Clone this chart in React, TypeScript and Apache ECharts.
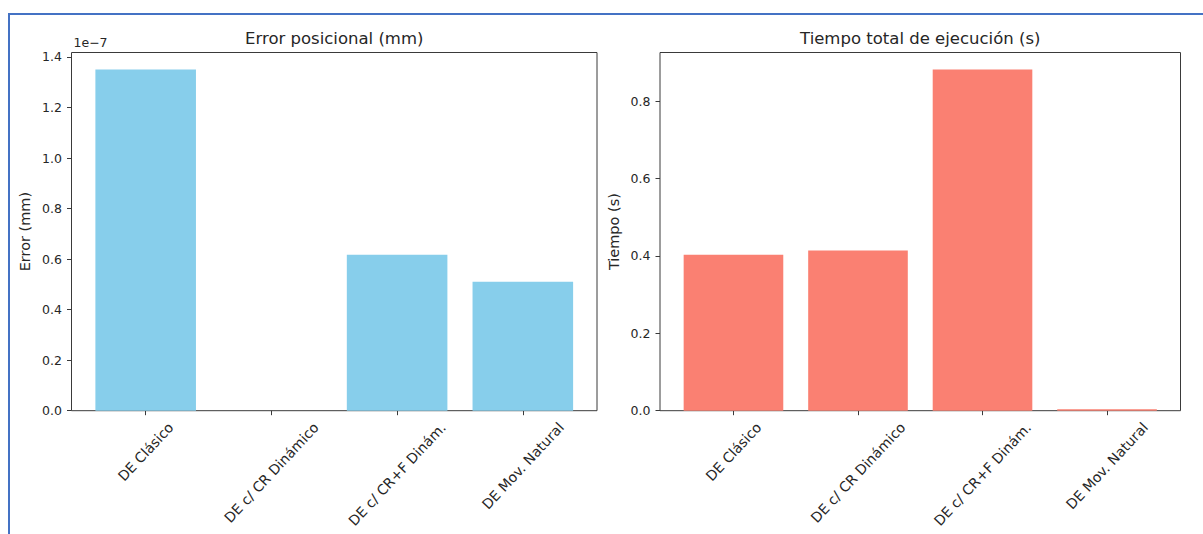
import React, { useEffect, useRef } from 'react';
import * as echarts from 'echarts';

const categories = ['DE Clásico', 'DE c/ CR Dinámico', 'DE c/ CR+F Dinám.', 'DE Mov. Natural'];
const errorValues = [1.35e-7, 0, 0.617e-7, 0.51e-7];
const timeValues = [0.403, 0.414, 0.882, 0.004];
const errorTicks = [0, 0.2e-7, 0.4e-7, 0.6e-7, 0.8e-7, 1.0e-7, 1.2e-7, 1.4e-7];
const timeTicks = [0, 0.2, 0.4, 0.6, 0.8];
const categoryPositions = [0, 1, 2, 3];
const titles = ['Error posicional (mm)', 'Tiempo total de ejecución (s)'];
const yNames = ['Error (mm)', 'Tiempo (s)'];
const offsetText = '1e\u22127';

const FONT = '"DejaVu Sans", sans-serif';
const TEXT = '#262626';
const SPINE = '#3a3a3a';
const XFS = 14;
const ANGLE = (47 * Math.PI) / 180;

const grids = [
  { left: 71.5, top: 52.5, width: 525.5, height: 358.2 },
  { left: 660, top: 52.5, width: 520.5, height: 358.2 },
];

function xAxisOpt(g: number) {
  return {
    type: 'value',
    gridIndex: g,
    min: -0.59,
    max: 3.59,
    axisLine: { show: false, onZero: false },
    splitLine: { show: false },
    axisTick: { show: true, length: 4.5, lineStyle: { color: SPINE, width: 1 }, customValues: categoryPositions },
    axisLabel: { show: false },
  };
}

function yAxisOpt(g: number, ticks: number[], maxV: number, fmt: (v: number) => string) {
  return {
    type: 'value',
    gridIndex: g,
    min: 0,
    max: maxV,
    name: yNames[g],
    nameLocation: 'middle',
    nameGap: 39,
    nameTextStyle: { fontFamily: FONT, fontSize: 14.5, color: TEXT },
    axisLine: { show: false, onZero: false },
    splitLine: { show: false },
    axisTick: { show: true, length: 4.5, lineStyle: { color: SPINE, width: 1 }, customValues: ticks },
    axisLabel: {
      show: true,
      customValues: ticks,
      margin: 9.5,
      fontFamily: FONT,
      fontSize: 12.5,
      color: TEXT,
      formatter: fmt,
    },
  };
}

export default function App() {
  const ref = useRef<HTMLDivElement>(null);
  useEffect(() => {
    if (!ref.current) return;
    const chart = echarts.init(ref.current, undefined, { renderer: 'svg' });
    const errMax = Math.max(...errorValues) * 1.05;
    const timeMax = Math.max(...timeValues) * 1.05;
    chart.setOption({
      animation: false,
      backgroundColor: '#ffffff',
      title: [0, 1].map((g) => ({
        text: titles[g],
        left: grids[g].left + grids[g].width / 2,
        top: 30,
        textAlign: 'center',
        padding: 0,
        textStyle: { fontFamily: FONT, fontSize: 16.5, fontWeight: 'normal', color: TEXT },
      })),
      grid: grids.map((g) => ({
        ...g,
        show: true,
        borderColor: SPINE,
        borderWidth: 1,
        backgroundColor: 'transparent',
        containLabel: false,
      })),
      xAxis: [xAxisOpt(0), xAxisOpt(1)],
      yAxis: [
        yAxisOpt(0, errorTicks, errMax, (v: number) => (v / 1e-7).toFixed(1)),
        yAxisOpt(1, timeTicks, timeMax, (v: number) => v.toFixed(1)),
      ],
      series: [
        {
          type: 'bar',
          xAxisIndex: 0,
          yAxisIndex: 0,
          barWidth: '80%',
          itemStyle: { color: '#87CEEB' },
          data: errorValues.map((v, i) => [categoryPositions[i], v]),
        },
        {
          type: 'bar',
          xAxisIndex: 1,
          yAxisIndex: 1,
          barWidth: '80%',
          itemStyle: { color: '#FA8072' },
          data: timeValues.map((v, i) => [categoryPositions[i], v]),
        },
      ],
    });

    // rotated category labels, centered under each tick like matplotlib
    const canvas = document.createElement('canvas');
    const ctx = canvas.getContext('2d');
    const elements: any[] = [];
    const cosA = Math.cos(ANGLE);
    const sinA = Math.sin(ANGLE);
    for (let g = 0; g < 2; g++) {
      const axisY = chart.convertToPixel({ yAxisIndex: g }, 0) as number;
      categories.forEach((c, i) => {
        const tx = chart.convertToPixel({ xAxisIndex: g }, categoryPositions[i]) as number;
        let L = c.length * XFS * 0.58;
        if (ctx) {
          ctx.font = `${XFS}px "DejaVu Sans"`;
          L = ctx.measureText(c).width;
        }
        const h = XFS * 1.16;
        const bboxH = L * sinA + h * cosA;
        const cy = axisY + 8.5 + bboxH / 2;
        elements.push({
          type: 'text',
          x: tx,
          y: cy,
          rotation: ANGLE,
          style: {
            text: c,
            fontFamily: FONT,
            fontSize: XFS,
            fill: TEXT,
            align: 'center',
            verticalAlign: 'middle',
          },
        });
      });
    }
    const gx = chart.convertToPixel({ xAxisIndex: 0 }, -0.59) as number;
    elements.push({
      type: 'text',
      x: gx + 2,
      y: grids[0].top - 3.5,
      style: {
        text: offsetText,
        fontFamily: FONT,
        fontSize: 12.5,
        fill: TEXT,
        align: 'left',
        verticalAlign: 'bottom',
      },
    });
    chart.setOption({ graphic: { elements } });

    return () => chart.dispose();
  }, []);

  return (
    <div style={{ position: 'fixed', left: 0, top: 0, width: 1203, height: 534, background: '#fff' }}>
      <div ref={ref} style={{ position: 'absolute', left: 0, top: 0, width: 1203, height: 534 }} />
      <div
        style={{
          position: 'absolute',
          left: 7.5,
          top: 12.5,
          width: 1203 - 7.5,
          height: 534 - 12.5,
          borderTop: '2px solid #4472C4',
          borderLeft: '2px solid #4472C4',
          boxSizing: 'border-box',
          pointerEvents: 'none',
        }}
      />
    </div>
  );
}
